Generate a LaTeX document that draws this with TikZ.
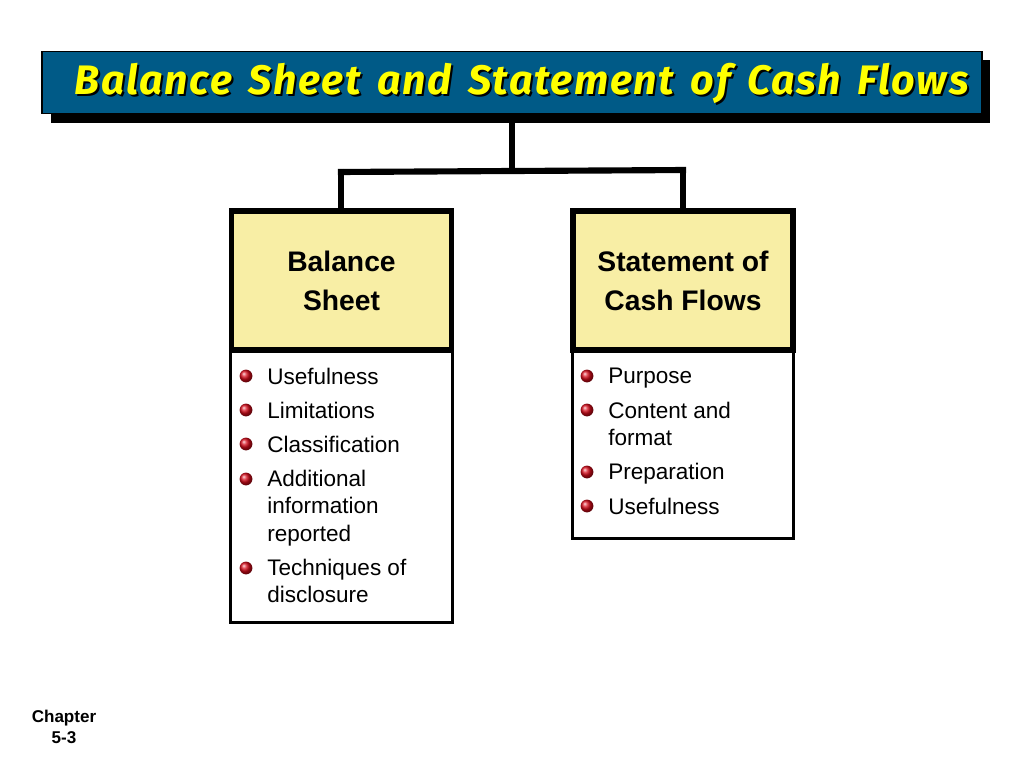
\documentclass[tikz,border=0pt]{standalone}
\usepackage{fontspec}
\setmainfont{Liberation Sans}
\newfontfamily\titlefont[LetterSpace=4,WordSpace=1.5]{Fira Sans}
\usetikzlibrary{shadows}
\definecolor{banner}{RGB}{0,90,135}
\definecolor{headfill}{RGB}{248,238,165}
\definecolor{titleyellow}{RGB}{255,255,0}
\definecolor{ballred}{RGB}{215,10,25}
\tikzset{
  x=0.75pt,y=-0.75pt,
  bannerbox/.style={draw=black,line width=0.8pt,fill=banner,minimum width=705pt,minimum height=47pt,inner sep=0pt},
  bannershade/.style={fill=black,draw=none,minimum width=704pt,minimum height=47pt,inner sep=0pt},
  titletext/.style={font=\titlefont\bfseries\itshape\fontsize{30.9}{36}\selectfont,inner sep=0pt,anchor=center},
  headbox/.style={draw=black,line width=4.2pt,fill=headfill,minimum width=165pt,minimum height=104pt,inner sep=0pt,align=center,
     font=\bfseries\fontsize{21.2}{29.3}\selectfont},
  listbox/.style={draw=black,line width=2.3pt,fill=white,minimum width=166pt,inner sep=0pt},
  itemtext/.style={font=\fontsize{16.9}{20.4}\selectfont,align=left,anchor=north west,inner sep=0pt,text=black},
  ball/.style={circle,minimum size=9.6pt,inner sep=0pt,ball color=ballred,draw=none,shading=ball},
  link/.style={draw=black,line width=4.6pt,line cap=butt,line join=miter},
  chaptertext/.style={font=\bfseries\fontsize{12.8}{15.8}\selectfont,align=center,inner sep=0pt}
}
\begin{document}
\begin{tikzpicture}
\useasboundingbox (0,0) rectangle (1024,768);
\node[bannershade] (shade) at (520.5,91.5) {};
\node[bannerbox] (title) at (512,82.5) {};
\node[titletext,text=black] (titleshadow) at (523.5,85) {Balance Sheet and Statement of Cash Flows};
\node[titletext,text=titleyellow] (titletxt) at (521.5,83) {Balance Sheet and Statement of Cash Flows};
\coordinate (mid) at (512,171);
\coordinate (lj) at (341,172);
\coordinate (rj) at (683,170);
\node[listbox,minimum height=203.5pt,anchor=north] (llist) at (341.5,350) {};
\node[listbox,minimum height=140pt,anchor=north] (rlist) at (683,350) {};
\node[headbox] (lhead) at (341.5,280.5) {Balance\\Sheet};
\node[headbox] (rhead) at (683,280.5) {Statement of\\Cash Flows};
\draw[link] (shade.south -| mid) -- (mid);
\draw[link] ([xshift=-2.3pt]lj) -- ([xshift=2.3pt]rj);
\draw[link] ([yshift=2.3pt]lj) -- (lj |- lhead.north);
\draw[link] ([yshift=2.3pt]rj) -- (rj |- rhead.north);
% left list
\node[ball] (b1) at (246,376) {};
\node[itemtext] (t1) at (267,368) {Usefulness};
\node[ball] (b2) at (246,410) {};
\node[itemtext] (t2) at (267,402) {Limitations};
\node[ball] (b3) at (246,444) {};
\node[itemtext] (t3) at (267,436) {Classification};
\node[ball] (b4) at (246,479) {};
\node[itemtext] (t4) at (267,470) {Additional\\information\\reported};
\node[ball] (b5) at (246,568) {};
\node[itemtext] (t5) at (267,559) {Techniques of\\disclosure};
% right list
\node[ball] (c1) at (587,376) {};
\node[itemtext] (u1) at (608,368) {Purpose};
\node[ball] (c2) at (587,410) {};
\node[itemtext] (u2) at (608,402) {Content and\\format};
\node[ball] (c3) at (587,472) {};
\node[itemtext] (u3) at (608,463) {Preparation};
\node[ball] (c4) at (587,506) {};
\node[itemtext] (u4) at (608,498) {Usefulness};
\node[chaptertext] (chap) at (64,726.5) {Chapter\\5-3};
\end{tikzpicture}
\end{document}
